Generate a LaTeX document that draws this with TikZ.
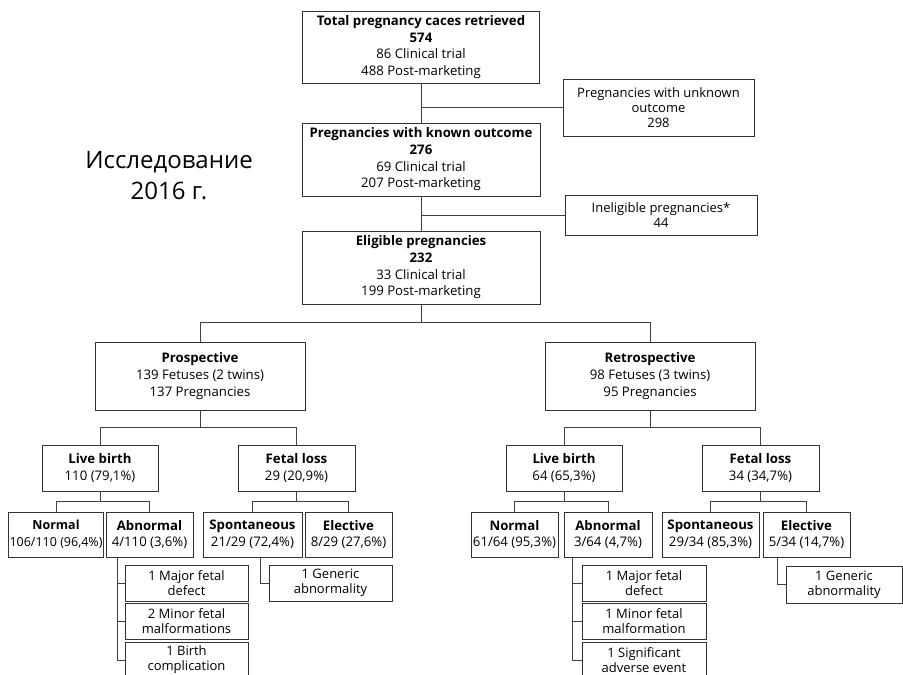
\documentclass[tikz,border=0pt]{standalone}
\usepackage{fontspec}
\setmainfont{Open Sans}
\begin{document}
\begin{tikzpicture}[x=1pt, y=-1pt,
    box/.style={draw=black!80, line width=0.8pt, align=center, inner sep=1pt,
      font=\fontsize{13.2}{16.7}\selectfont},
    smallbox/.style={box, font=\fontsize{13}{15}\selectfont},
    link/.style={draw=black!75, line width=0.8pt}]
    \useasboundingbox (0,0) rectangle (903,675);

    % main column
    \node (total) at (421,47) [box, minimum width=237, minimum height=72]
        {\textbf{Total pregnancy caces retrieved}\\\textbf{574}\\86 Clinical trial\\488 Post-marketing};
    \node (unknown) at (658.5,107.5) [smallbox, minimum width=191, minimum height=57]
        {Pregnancies with unknown\\outcome\\298};
    \node (known) at (421,159.5) [box, minimum width=238, minimum height=73]
        {\textbf{Pregnancies with known outcome}\\\textbf{276}\\69 Clinical trial\\207 Post-marketing};
    \node (inelig) at (661,215) [smallbox, minimum width=192, minimum height=40]
        {Ineligible pregnancies*\\44};
    \node (elig) at (421,267.5) [box, minimum width=238, minimum height=73]
        {\textbf{Eligible pregnancies}\\\textbf{232}\\33 Clinical trial\\199 Post-marketing};

    \node (study) at (169,176) [font=\fontsize{24}{31}\selectfont, align=center]
        {Исследование\\2016 г.};

    % cohorts
    \node (prosp) at (200,376) [box, minimum width=210, minimum height=68]
        {\textbf{Prospective}\\139 Fetuses (2 twins)\\137 Pregnancies};
    \node (retro) at (650,376) [box, minimum width=210, minimum height=68]
        {\textbf{Retrospective}\\98 Fetuses (3 twins)\\95 Pregnancies};

    % outcomes
    \node (lbL) at (100,468) [box, minimum width=116, minimum height=46] {\textbf{Live birth}\\110 (79,1\%)};
    \node (flL) at (296.5,468) [box, minimum width=117, minimum height=46] {\textbf{Fetal loss}\\29 (20,9\%)};
    \node (lbR) at (564,468) [box, minimum width=116, minimum height=46] {\textbf{Live birth}\\64 (65,3\%)};
    \node (flR) at (760.5,468) [box, minimum width=117, minimum height=46] {\textbf{Fetal loss}\\34 (34,7\%)};

    \node (nL) at (56,534.5) [box, minimum width=94, minimum height=45, font=\fontsize{12.5}{16.7}\selectfont] {\textbf{Normal}\\106/110 (96,4\%)};
    \node (aL) at (149.5,534.5) [box, minimum width=87, minimum height=45] {\textbf{Abnormal}\\4/110 (3,6\%)};
    \node (sL) at (252.5,534.5) [box, minimum width=99, minimum height=45] {\textbf{Spontaneous}\\21/29 (72,4\%)};
    \node (eL) at (348.5,534.5) [box, minimum width=87, minimum height=45] {\textbf{Elective}\\8/29 (27,6\%)};
    \node (nR) at (514.5,534.5) [box, minimum width=87, minimum height=45] {\textbf{Normal}\\61/64 (95,3\%)};
    \node (aR) at (608,534.5) [box, minimum width=88, minimum height=45] {\textbf{Abnormal}\\3/64 (4,7\%)};
    \node (sR) at (710.5,534.5) [box, minimum width=97, minimum height=45] {\textbf{Spontaneous}\\29/34 (85,3\%)};
    \node (eR) at (806.5,534.5) [box, minimum width=87, minimum height=45] {\textbf{Elective}\\5/34 (14,7\%)};

    % details
    \node (mjL) at (186.5,583) [smallbox, minimum width=123, minimum height=36] {1 Major fetal\\defect};
    \node (mnL) at (186.5,621) [smallbox, minimum width=123, minimum height=36] {2 Minor fetal\\malformations};
    \node (bcL) at (186.5,660) [smallbox, minimum width=123, minimum height=36] {1 Birth\\complication};
    \node (gaL) at (330.5,583) [smallbox, minimum width=123, minimum height=36] {1 Generic\\abnormality};
    \node (mjR) at (644,583) [smallbox, minimum width=124, minimum height=36] {1 Major fetal\\defect};
    \node (mnR) at (644,621) [smallbox, minimum width=124, minimum height=36] {1 Minor fetal\\malformation};
    \node (saR) at (644,660) [smallbox, minimum width=124, minimum height=36] {1 Significant\\adverse event};
    \node (geR) at (844,584.5) [smallbox, minimum width=116, minimum height=37] {1 Generic\\abnormality};

    % connectors
    \draw[link] (total) -- (known);
    \draw[link] (unknown.west) -- (unknown.west -| total.south);
    \draw[link] (known) -- (elig);
    \draw[link] (inelig.west) -- (inelig.west -| known.south);
    \draw[link] (elig.south) -- ++(0,18) -| (prosp.north);
    \draw[link] (elig.south) -- ++(0,18) -| (retro.north);

    \draw[link] (prosp.south) -- ++(0,17) -| (lbL.north);
    \draw[link] (prosp.south) -- ++(0,17) -| (flL.north);
    \draw[link] (retro.south) -- ++(0,17) -| (lbR.north);
    \draw[link] (retro.south) -- ++(0,17) -| (flR.north);

    \draw[link] (lbL.south) -- ++(0,10) -| (nL.north);
    \draw[link] (lbL.south) -- ++(0,10) -| (aL.north);
    \draw[link] (flL.south) -- ++(0,10) -| (sL.north);
    \draw[link] (flL.south) -- ++(0,10) -| (eL.north);
    \draw[link] (lbR.south) -- ++(0,10) -| (nR.north);
    \draw[link] (lbR.south) -- ++(0,10) -| (aR.north);
    \draw[link] (flR.south) -- ++(0,10) -| (sR.north);
    \draw[link] (flR.south) -- ++(0,10) -| (eR.north);

    \draw[link] ([xshift=12]aL.south west) |- (mjL.west);
    \draw[link] ([xshift=12]aL.south west) |- (mnL.west);
    \draw[link] ([xshift=12]aL.south west) |- (bcL.west);
    \draw[link] ([xshift=8]sL.south) |- (gaL.west);
    \draw[link] ([xshift=9]aR.south west) |- (mjR.west);
    \draw[link] ([xshift=9]aR.south west) |- (mnR.west);
    \draw[link] ([xshift=9]aR.south west) |- (saR.west);
    \draw[link] ([xshift=15]eR.south west) |- (geR.west);
\end{tikzpicture}
\end{document}
